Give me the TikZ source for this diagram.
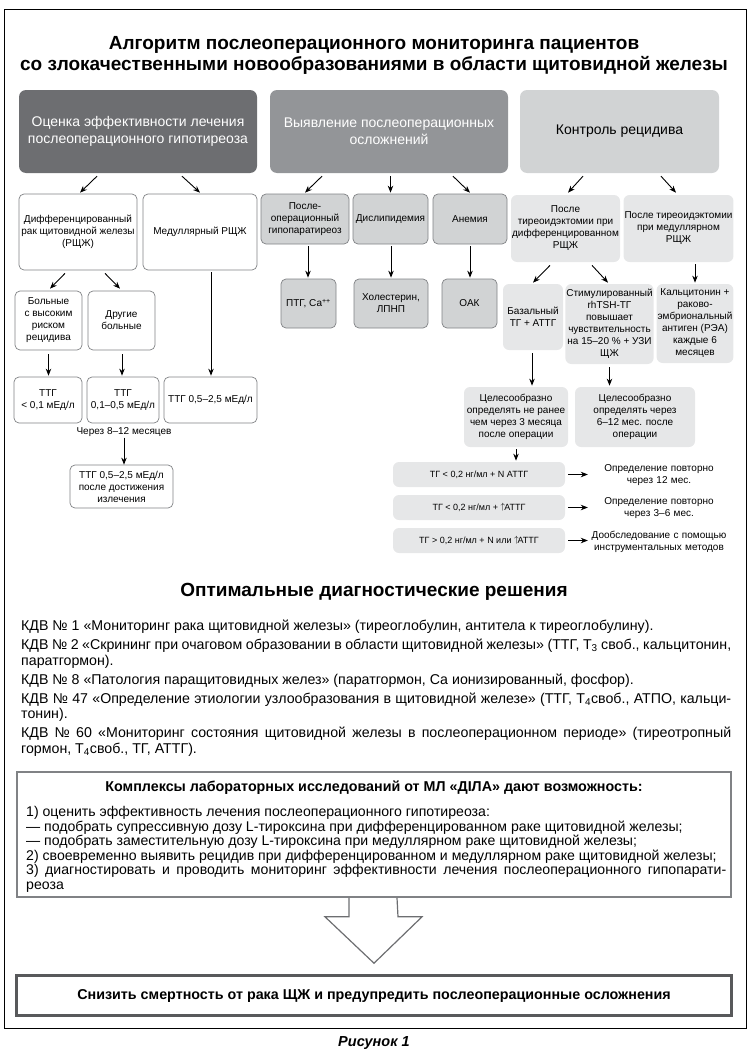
\documentclass[tikz,border=0pt]{standalone}
\usepackage{fontspec}
\setmainfont{Liberation Sans}
\usetikzlibrary{arrows.meta}
\definecolor{gdark}{HTML}{6D6E71}
\definecolor{gmid}{HTML}{939598}
\definecolor{glight}{HTML}{D1D3D4}
\definecolor{gpale}{HTML}{E6E7E8}
\definecolor{gline}{HTML}{808285}
\definecolor{gframe}{HTML}{58595B}
\newcommand\upt{\raisebox{0.3pt}{$\uparrow$}\kern-1pt}
\tikzset{>={Stealth[length=7pt,width=5.5pt]},
  sz/.style 2 args={minimum width=#1pt, minimum height=#2pt},
  head/.style={rounded corners=7pt, align=center, inner sep=0pt, sz={238}{83},
    font=\fontsize{14}{17}\selectfont},
  wbox/.style={draw=gline, line width=0.7pt, fill=white, rounded corners=5pt,
    align=center, inner sep=1pt, font=\fontsize{10}{12}\selectfont},
  gbox/.style={wbox, fill=glight},
  pbox/.style={wbox, draw=none, fill=gpale, rounded corners=6pt},
  rbox/.style={pbox, sz={172}{25}, font=\fontsize{9}{11}\selectfont},
  note/.style={text width=140pt, align=center, inner sep=0pt, font=\fontsize{10}{12}\selectfont},
  arr/.style={->, line width=0.9pt},
  txt/.style={anchor=north west, align=justify, inner sep=0pt}
}
\begin{document}
\begin{tikzpicture}[x=1pt, y=-1pt]
\useasboundingbox (0,0) rectangle (748,1057);
\draw[line width=0.8pt] (4,9) rectangle (746,1028);
\node[font=\bfseries\fontsize{19}{21}\selectfont, align=center] (title) at (374,55)
  {Алгоритм послеоперационного мониторинга пациентов\\
   со злокачественными новообразованиями в области щитовидной железы};
% three directions
\node[head, fill=gdark, text=white] (oce) at (138,131.5)
  {Оценка эффективности лечения\\послеоперационного гипотиреоза};
\node[head, fill=gmid, text=white] (vyy) at (389,131.5)
  {Выявление послеоперационных\\осложнений};
\node[head, fill=glight, minimum width=199pt] (kon) at (619.5,131.5) {Контроль рецидива};
% left branch
\node[wbox, sz={118}{76}] (diff) at (78,232) {Дифференцированный\\рак щитовидной железы\\(РЩЖ)};
\node[wbox, sz={114}{76}] (med) at (200,232) {Медуллярный РЩЖ};
\node[wbox, sz={67}{59}] (risk) at (48.5,320.5) {Больные\\с высоким\\риском\\рецидива};
\node[wbox, sz={67}{59}] (other) at (121.5,320.5) {Другие\\больные};
\node[wbox, sz={68}{46}] (tlow) at (48,400) {ТТГ\\< 0,1 мЕд/л};
\node[wbox, sz={72}{46}] (tmid) at (123,400) {ТТГ\\0,1–0,5 мЕд/л};
\node[wbox, sz={93}{46}] (tmed) at (210.5,400) {ТТГ 0,5–2,5 мЕд/л};
\node[font=\fontsize{10}{12}\selectfont, inner sep=1pt] (via) at (124,432) {Через 8–12 месяцев};
\node[wbox, sz={103}{43}] (tcure) at (121.5,486.5) {ТТГ 0,5–2,5 мЕд/л\\после достижения\\излечения};
% middle branch
\node[gbox, sz={88}{50}] (hypo) at (305,219) {После-\\операционный\\гипопаратиреоз};
\node[gbox, sz={75}{50}] (dysl) at (390.5,219) {Дислипидемия};
\node[gbox, sz={74}{50}] (anem) at (470,219) {Анемия};
\node[gbox, sz={55}{49}] (ptg) at (308.5,303.5) {ПТГ, Са\textsuperscript{++}};
\node[gbox, sz={74}{49}] (chol) at (391,303.5) {Холестерин,\\ЛПНП};
\node[gbox, sz={55}{49}] (oak) at (469.5,303.5) {ОАК};
% right branch
\node[pbox, sz={109}{67}] (pdiff) at (565.5,228.5) {После\\тиреоидэктомии при\\дифференцированном\\РЩЖ};
\node[pbox, sz={109}{67}] (pmed) at (678.5,228.5) {После тиреоидэктомии\\при медуллярном\\РЩЖ};
\node[pbox, sz={60}{66}] (bas) at (533,317) {Базальный\\ТГ + АТТГ};
\node[pbox, sz={85}{80}] (stim) at (609.5,324) {Стимулированный\\rhTSH-ТГ\\повышает\\чувствительность\\на 15–20 \% + УЗИ\\ЩЖ};
\node[pbox, sz={76}{79}] (calc) at (695,323.5) {Кальцитонин +\\раково-\\эмбриональный\\антиген (РЭА)\\каждые 6\\месяцев};
\node[pbox, sz={104}{60}] (wait3) at (516,417) {Целесообразно\\определять не ранее\\чем через 3 месяца\\после операции};
\node[pbox, sz={120}{60}] (wait6) at (635,417) {Целесообразно\\определять через\\6–12 мес. после\\операции};
\node[rbox] (r1) at (479,474.5) {ТГ < 0,2 нг/мл + N АТТГ};
\node[rbox] (r2) at (479,507.5) {ТГ < 0,2 нг/мл + \upt АТТГ};
\node[rbox] (r3) at (479,540.5) {ТГ > 0,2 нг/мл + N или \upt АТТГ};
\node[note] (o1) at (659,475.5) {Определение повторно\\через 12 мес.};
\node[note] (o2) at (659,508.5) {Определение повторно\\через 3–6 мес.};
\node[note] (o3) at (659,541.5) {Дообследование с помощью\\инструментальных методов};
% arrows
\draw[arr] ([shift={(-41,3)}]oce.south) -- ([shift={(2,-1)}]diff.north);
\draw[arr] ([shift={(44,3)}]oce.south) -- ([shift={(0,-1)}]med.north);
\draw[arr] ([shift={(-67,3)}]vyy.south) -- ([shift={(0,-1)}]hypo.north);
\draw[arr] ([shift={(1.5,3)}]vyy.south) -- ([shift={(0,-1)}]dysl.north);
\draw[arr] ([shift={(64,3)}]vyy.south) -- ([shift={(0,-1)}]anem.north);
\draw[arr] ([shift={(-36.5,3)}]kon.south) -- ([shift={(2.5,-2)}]pdiff.north);
\draw[arr] ([shift={(41.5,3)}]kon.south) -- ([shift={(-2.5,-2)}]pmed.north);
\draw[arr] ([shift={(-13,3)}]diff.south) -- ([shift={(1.5,-2)}]risk.north);
\draw[arr] ([shift={(27,3)}]diff.south) -- ([shift={(-1.5,-2)}]other.north);
\draw[arr] ([shift={(0,4)}]risk.south) -- ([shift={(0.5,-1)}]tlow.north);
\draw[arr] ([shift={(0.5,4)}]other.south) -- ([shift={(-1,-1)}]tmid.north);
\draw[arr] ([shift={(11,2)}]med.south) -- ([shift={(0.5,-1)}]tmed.north);
\draw[arr] (via.south) -- (via.south |- tcure.north);
\draw[arr] ([shift={(3,2)}]hypo.south) -- ([shift={(-0.5,-1)}]ptg.north);
\draw[arr] ([shift={(0.5,2)}]dysl.south) -- ([shift={(0,-1)}]chol.north);
\draw[arr] ([shift={(0,2)}]anem.south) -- ([shift={(0.5,-1)}]oak.north);
\draw[arr] ([shift={(-15.5,3)}]pdiff.south) -- ([shift={(0,-1)}]bas.north);
\draw[arr] ([shift={(26.5,3)}]pdiff.south) -- ([shift={(-1.5,-1)}]stim.north);
\draw[arr] ([shift={(16.5,2)}]pmed.south) -- ([shift={(0,-1)}]calc.north);
\draw[arr] ([shift={(-1,3)}]bas.south) -- ([shift={(16,-1)}]wait3.north);
\draw[arr] ([shift={(0,3)}]stim.south) -- ([shift={(-25.5,-1)}]wait6.north);
\draw[arr] ([shift={(0,2)}]wait3.south) -- ([shift={(37,-1)}]r1.north);
\foreach \r/\o in {r1/o1, r2/o2, r3/o3}
  \draw[arr, shorten <=3pt, shorten >=1pt] (\r.east) -- (\r.east -| \o.west);
% diagnostic sets
\node[font=\bfseries\fontsize{19}{22}\selectfont] (opt) at (374,592) {Оптимальные диагностические решения};
\node[txt, text width=710pt, font=\fontsize{14.2}{15.5}\selectfont] (kdv) at (21,620) {\setlength{\parskip}{3.5pt}%
КДВ № 1 «Мониторинг рака щитовидной железы» (тиреоглобулин, антитела к тиреоглобулину).\par
КДВ № 2 «Скрининг при очаговом образовании в области щитовидной железы» (ТТГ, Т\textsubscript{3} своб., кальцитонин,\linebreak паратгормон).\par
КДВ № 8 «Патология паращитовидных желез» (паратгормон, Са ионизированный, фосфор).\par
КДВ № 47 «Определение этиологии узлообразования в щитовидной железе» (ТТГ, Т\textsubscript{4}своб., АТПО, кальци-\linebreak тонин).\par
КДВ № 60 «Мониторинг состояния щитовидной железы в послеоперационном периоде» (тиреотропный\linebreak гормон, Т\textsubscript{4}своб., ТГ, АТТГ).};
% lab offer
\node[draw=gline, line width=1.6pt, sz={714}{125}] (offer) at (374,834.5) {};
\node[font=\bfseries\fontsize{14.3}{16}\selectfont] (offerhead) at (374,788)
  {Комплексы лабораторных исследований от МЛ «ДІЛА» дают возможность:};
\node[txt, text width=700pt, font=\fontsize{14.1}{14.6}\selectfont] (list) at (26,806) {%
1) оценить эффективность лечения послеоперационного гипотиреоза:\\
— подобрать супрессивную дозу L-тироксина при дифференцированном раке щитовидной железы;\\
— подобрать заместительную дозу L-тироксина при медуллярном раке щитовидной железы;\\
2) своевременно выявить рецидив при дифференцированном и медуллярном раке щитовидной железы;\\
3) диагностировать и проводить мониторинг эффективности лечения послеоперационного гипопарати-\linebreak реоза};
\node[draw=gframe, line width=2.6pt, sz={715}{40}, font=\bfseries\fontsize{14.3}{16}\selectfont] (goal) at (374,995.5)
  {Снизить смертность от рака ЩЖ и предупредить послеоперационные осложнения};
\draw[gdark, line width=1.2pt] ([xshift=-25pt]offer.south) -- ++(0,19) -- ++(-24,0)
  -- ([yshift=11pt]goal.north) -- ([shift={(48,19)}]offer.south) -- ++(-24,0) -- ([xshift=23pt]offer.south);
\node[font=\bfseries\itshape\fontsize{14.5}{16}\selectfont] (cap) at (374,1043) {Рисунок 1};
\end{tikzpicture}
\end{document}
